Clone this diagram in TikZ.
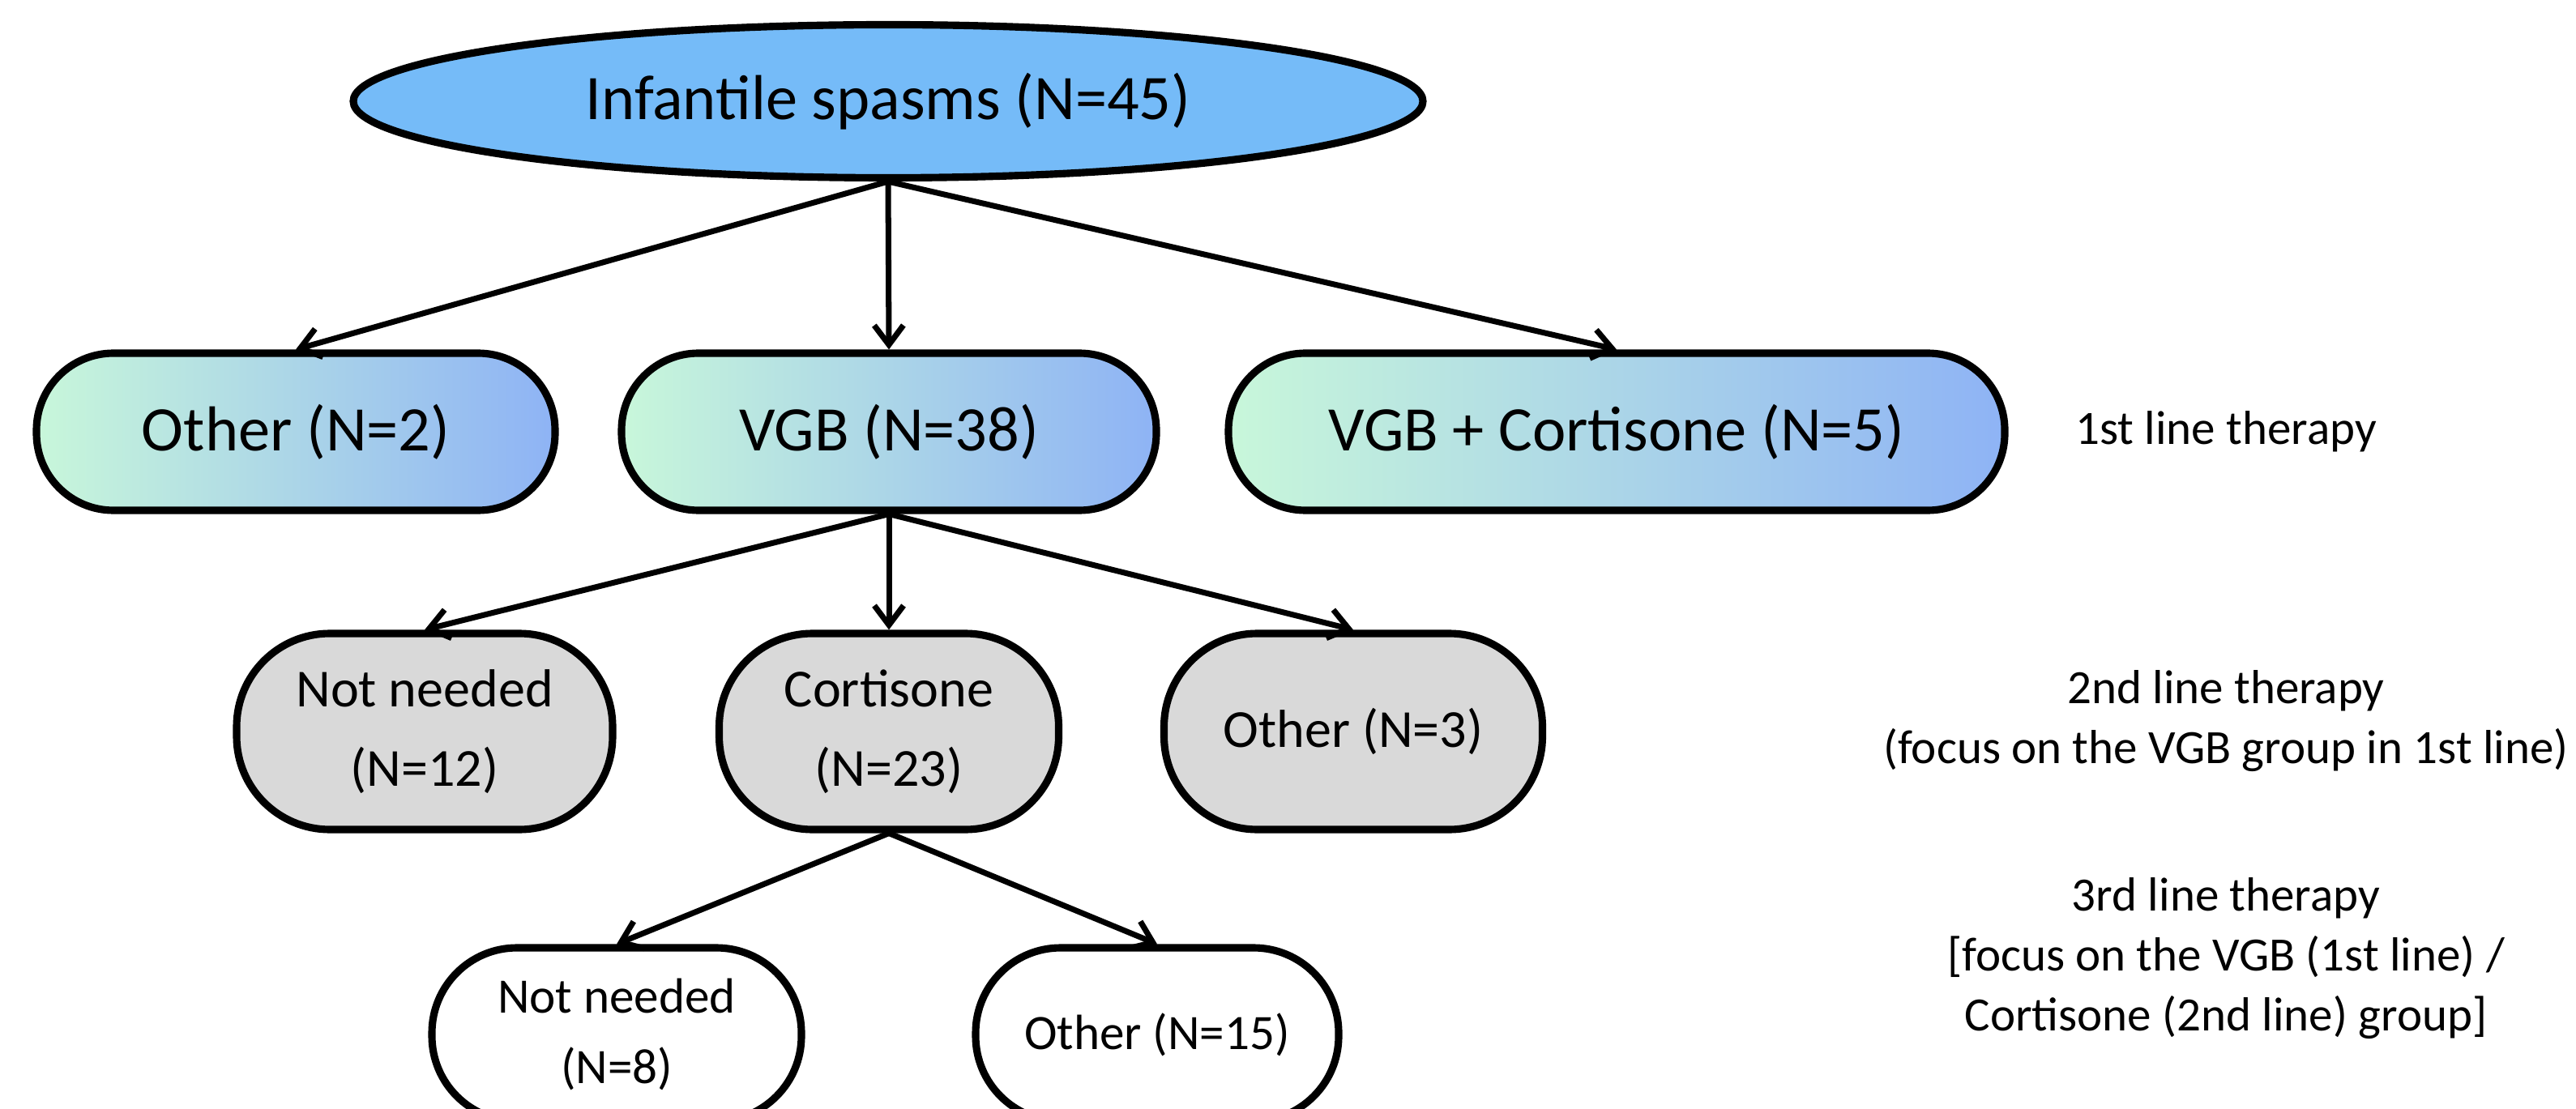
\documentclass[tikz,border=0pt]{standalone}
\usepackage{fontspec}
\setmainfont{Carlito}
\usetikzlibrary{arrows.meta,shapes.geometric}
\definecolor{rootblue}{HTML}{75BBF8}
\definecolor{mintgreen}{HTML}{C8F7DA}
\definecolor{skyblue}{HTML}{8EB3F5}
\definecolor{boxgray}{HTML}{D9D9D9}

\begin{document}
\begin{tikzpicture}[
    >={Straight Barb[length=2.4mm,width=3.6mm]},
    link/.style={line width=2pt,->},
    rootnode/.style={ellipse,draw,line width=2.6pt,fill=rootblue,minimum width=13.2cm,minimum height=1.89cm,inner sep=0pt,font=\fontsize{22.3}{26}\selectfont},
    firstline/.style={rectangle,draw,line width=2.6pt,left color=mintgreen,right color=skyblue,rounded corners=0.95cm,minimum height=1.94cm,inner sep=0pt,font=\fontsize{22.3}{26}\selectfont},
    secondline/.style={rectangle,draw,line width=2.6pt,fill=boxgray,rounded corners=1.15cm,minimum height=2.42cm,inner sep=0pt,align=center,font=\fontsize{18.8}{27.9}\selectfont},
    thirdline/.style={rectangle,draw,line width=2.6pt,fill=white,rounded corners=1.05cm,minimum height=2.14cm,inner sep=0pt,align=center,font=\fontsize{17.4}{24.8}\selectfont},
    note/.style={align=center,font=\fontsize{16.8}{21.1}\selectfont}
]
    \useasboundingbox (0,0) rectangle (31.79,-13.69);
    \clip (0,0) rectangle (31.79,-13.69);

    % top
    \node[rootnode] (root) at (10.96,-1.25) {Infantile spasms (N=45)};

    % 1st line
    \node[firstline,minimum width=6.40cm] (other1) at (3.65,-5.33) {Other (N=2)};
    \node[firstline,minimum width=6.60cm] (vgb) at (10.97,-5.33) {VGB (N=38)};
    \node[firstline,minimum width=9.58cm] (vgbcort) at (19.95,-5.33) {VGB + Cortisone (N=5)};

    % 2nd line
    \node[secondline,minimum width=4.64cm] (notneeded2) at (5.24,-9.03) {Not needed\\(N=12)};
    \node[secondline,minimum width=4.19cm] (cort2) at (10.97,-9.03) {Cortisone\\(N=23)};
    \node[secondline,minimum width=4.67cm] (other2) at (16.70,-9.03) {Other (N=3)};

    % 3rd line
    \node[thirdline,minimum width=4.56cm] (notneeded3) at (7.61,-12.77) {Not needed\\(N=8)};
    \node[thirdline,minimum width=4.48cm] (other3) at (14.28,-12.77) {Other (N=15)};

    % row labels
    \node[note] (lab1) at (27.47,-5.33) {1st line therapy};
    \node[note] (lab2) at (27.47,-8.90) {2nd line therapy\\(focus on the VGB group in 1st line)};
    \node[note] (lab3) at (27.47,-11.83) {3rd line therapy\\{}[focus on the VGB (1st line) /\\Cortisone (2nd line) group]};

    \draw[link] (root.south) -- (other1.north);
    \draw[link] (root.south) -- (vgb.north);
    \draw[link] (root.south) -- (vgbcort.north);

    \draw[link] (vgb.south) -- (notneeded2.north);
    \draw[link] (vgb.south) -- (cort2.north);
    \draw[link] (vgb.south) -- (other2.north);

    \draw[link] (cort2.south) -- (notneeded3.north);
    \draw[link] (cort2.south) -- (other3.north);
\end{tikzpicture}
\end{document}
